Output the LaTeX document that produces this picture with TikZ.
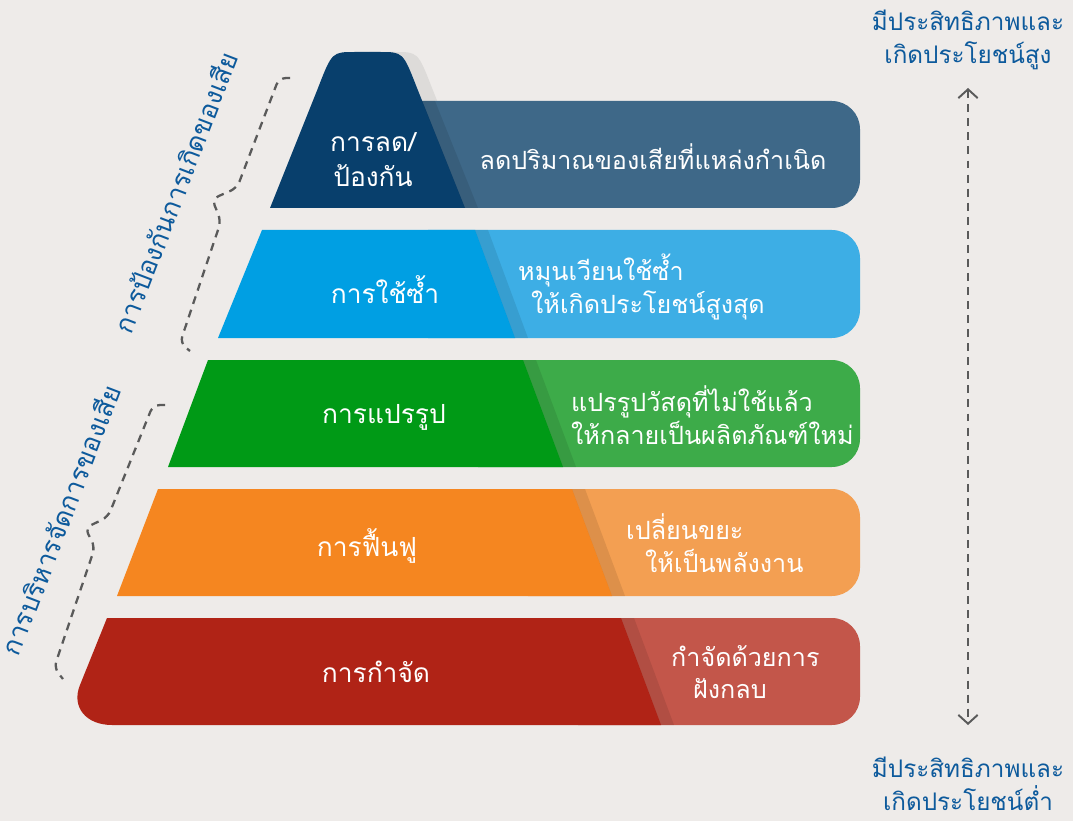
\documentclass[tikz,border=0pt]{standalone}
\usepackage{fontspec}
\newfontfamily\thaifont[Script=Thai]{Loma}
\usetikzlibrary{arrows.meta}
\definecolor{bgc}{HTML}{EEEBE9}
\definecolor{navyp}{HTML}{083F6C}\definecolor{navyr}{HTML}{3E6888}
\definecolor{bluep}{HTML}{009FE3}\definecolor{bluer}{HTML}{3DAEE5}
\definecolor{greenp}{HTML}{009A16}\definecolor{greenr}{HTML}{3DAB49}
\definecolor{orangep}{HTML}{F58620}\definecolor{oranger}{HTML}{F39F52}
\definecolor{redp}{HTML}{B02316}\definecolor{redr}{HTML}{C3564A}
\definecolor{labelblue}{HTML}{0D5A9C}
\definecolor{dashgray}{HTML}{5A5A5A}
\tikzset{
  pyrtext/.style={text=white, font=\thaifont\fontsize{15}{20}\selectfont, align=center},
  desctext/.style={text=white, font=\thaifont\fontsize{14.3}{18.5}\selectfont, align=left},
  sidetext/.style={text=labelblue, font=\thaifont\fontsize{13.8}{19}\selectfont, align=center},
  grouptext/.style={text=labelblue, font=\thaifont\fontsize{15}{20}\selectfont, rotate=69},
  band/.style={fill=black, fill opacity=0.09},
  stepcard/.style={rounded corners=16pt},
  brace/.style={dashgray, line width=1.3pt, dash pattern=on 4.5pt off 3.5pt, rounded corners=4pt},
  scalearrow/.style={dashgray, line width=1.1pt, dash pattern=on 4.5pt off 3.5pt,
    {Straight Barb[length=5pt,width=11pt,line width=1.1pt,sep=0pt]}-{Straight Barb[length=5pt,width=11pt,line width=1.1pt]}}
}
\begin{document}
\begin{tikzpicture}[x=0.02cm,y=-0.02cm]
\fill[bgc] (0,0) rectangle (1073,821);
\useasboundingbox (0,0) rectangle (1073,821);

\fill[bgc!93!black] (285,208) -- (333,88) .. controls (347,52) .. (370,52) -- (395,52) .. controls (418,52) .. (432,88) -- (480,208) -- cycle;

\fill[navyr,   stepcard] (380,101) rectangle (860,208);
\fill[bluer,   stepcard] (400,230) rectangle (860,338);
\fill[greenr,  stepcard] (450,360) rectangle (860,467);
\fill[oranger, stepcard] (500,489) rectangle (860,596);
\fill[redr,    stepcard] (550,618) rectangle (860,725);

\fill[navyp] (270,208) -- (318,88) .. controls (332,52) .. (355,52) -- (380,52) .. controls (403,52) .. (417,88) -- (465,208) -- cycle;
\fill[bluep] (262,230) -- (475,230) -- (515,338) -- (218,338) -- cycle;
\fill[greenp] (208,360) -- (523,360) -- (563,467) -- (168,467) -- cycle;
\fill[orangep] (158,489) -- (572,489) -- (612,596) -- (117,596) -- cycle;
\fill[redp] (107,618) -- (621,618) -- (661,725) -- (112,725) .. controls (86,725) and (71,707) .. (80,685) -- cycle;

\fill[band] (422,101) -- (465,208) -- (478,208) -- (435,101) -- cycle;
\fill[band] (475,230) -- (515,338) -- (528,338) -- (488,230) -- cycle;
\fill[band] (523,360) -- (563,467) -- (576,467) -- (536,360) -- cycle;
\fill[band] (572,489) -- (612,596) -- (625,596) -- (585,489) -- cycle;
\fill[band] (621,618) -- (661,725) -- (674,725) -- (634,618) -- cycle;

\node[pyrtext] (reduce) at (373,160) {การลด/\\ป้องกัน};
\node[pyrtext] (reuse) at (385,290) {การใช้ซ้ำ};
\node[pyrtext] (recycle) at (384,417) {การแปรรูป};
\node[pyrtext] (recover) at (367,546) {การฟื้นฟู};
\node[pyrtext] (dispose) at (376,672) {การกำจัด};

\node[desctext] (reducetxt) at (653,157) {ลดปริมาณของเสียที่แหล่งกำเนิด};
\node[desctext, anchor=west] (reusetxt) at (512,287) {หมุนเวียนใช้ซ้ำ\\\hspace*{0.26cm}ให้เกิดประโยชน์สูงสุด};
\node[desctext, anchor=west] (recycletxt) at (565,415) {แปรรูปวัสดุที่ไม่ใช้แล้ว\\ให้กลายเป็นผลิตภัณฑ์ใหม่};
\node[desctext, anchor=west] (recovertxt) at (620,543) {เปลี่ยนขยะ\\\hspace*{0.38cm}ให้เป็นพลังงาน};
\node[desctext, anchor=west] (disposetxt) at (665,672) {กำจัดด้วยการ\\\hspace*{0.44cm}ฝังกลบ};

\draw[brace] (290,78) -- (279,78) -- (237,188) -- (212,199) -- (221,221) -- (180,343) -- (190,351);
\draw[brace] (165,405) -- (153,405) -- (108,517) -- (85,528) -- (95,547) -- (54,668) -- (63,679);
\node[grouptext] (prevent) at (175,192) {การป้องกันการเกิดของเสีย};
\node[grouptext] (manage) at (60,520) {การบริหารจัดการของเสีย};

\node[sidetext] (high) at (968,40) {มีประสิทธิภาพและ\\เกิดประโยชน์สูง};
\node[sidetext] (low) at (968,784) {มีประสิทธิภาพและ\\เกิดประโยชน์ต่ำ};
\coordinate (hi) at (968,88); \coordinate (lo) at (968,725);
\draw[scalearrow] (hi) -- (lo);
\end{tikzpicture}
\end{document}
